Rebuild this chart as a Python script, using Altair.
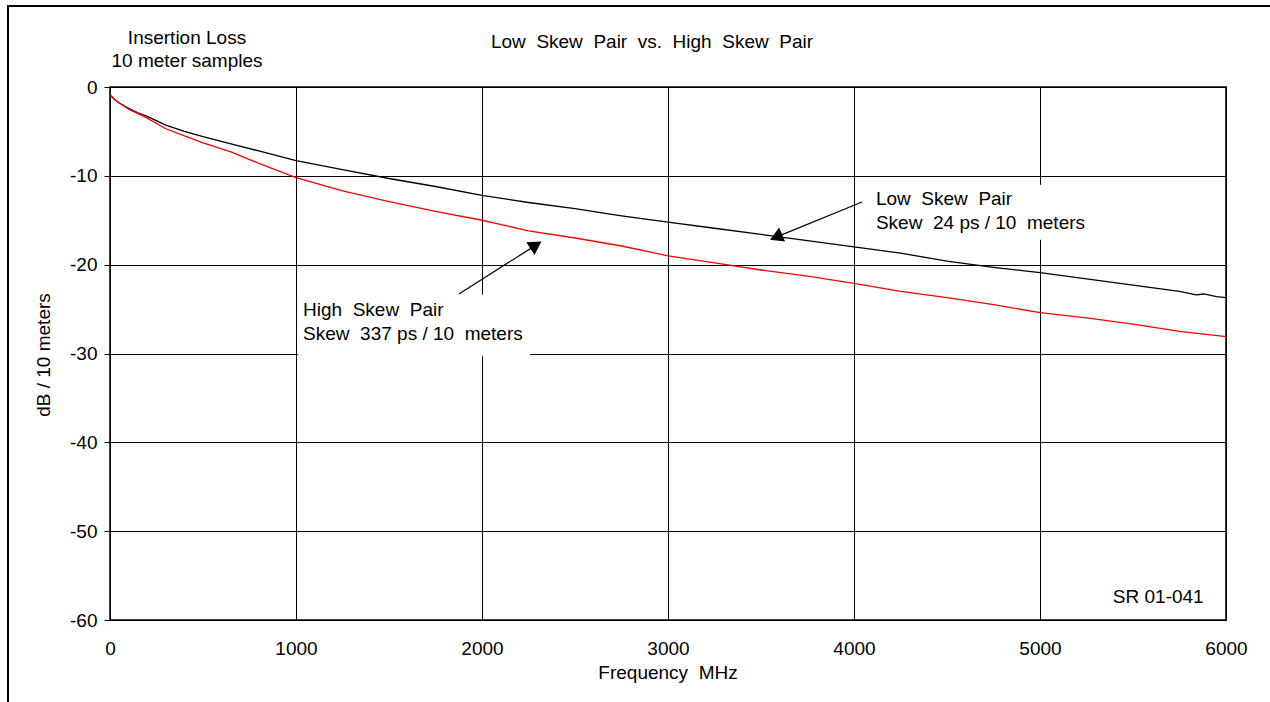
import altair as alt
import pandas as pd

# ---- data ----
low_freq = [0, 25, 50, 100, 150, 200, 300, 400, 500, 650, 800, 1000, 1250, 1500, 1750, 2000,
            2250, 2500, 2750, 3000, 3250, 3500, 3750, 4000, 4250, 4500, 4750, 5000, 5250,
            5500, 5750, 5840, 5880, 5950, 6000]
low_db = [-0.9, -1.4, -1.8, -2.4, -2.9, -3.3, -4.3, -5.0, -5.6, -6.4, -7.2, -8.3, -9.3, -10.3,
          -11.2, -12.2, -13.0, -13.7, -14.5, -15.2, -15.9, -16.6, -17.3, -18.0, -18.7, -19.6,
          -20.3, -20.9, -21.6, -22.3, -23.0, -23.4, -23.3, -23.6, -23.7]

high_freq = [0, 25, 50, 100, 150, 200, 300, 400, 500, 650, 800, 1000, 1250, 1500, 1750, 2000,
             2250, 2500, 2750, 3000, 3250, 3500, 3750, 4000, 4250, 4500, 4750,
             5000, 5250, 5500, 5750, 6000]
high_db = [-0.9, -1.4, -1.8, -2.5, -3.0, -3.5, -4.7, -5.5, -6.3, -7.3, -8.6, -10.2, -11.7,
           -12.9, -14.0, -15.0, -16.2, -17.0, -17.9, -19.0, -19.8, -20.6, -21.3, -22.1,
           -23.0, -23.7, -24.5, -25.4, -26.0, -26.7, -27.5, -28.1]

series_names = ["Low Skew Pair", "High Skew Pair"]
series_colors = ["#000000", "#ff0000"]

# annotation texts (anchor in data coords)
ann_text = ["Low\u00a0 Skew\u00a0 Pair", "Skew\u00a0 24 ps / 10\u00a0 meters",
            "High\u00a0 Skew\u00a0 Pair", "Skew\u00a0 337 ps / 10\u00a0 meters",
            "SR 01-041"]
ann_x = [4118, 4118, 1038, 1038, 5880]
ann_y = [-12.6, -15.3, -25.1, -27.8, -57.4]
ann_align = ["left", "left", "left", "left", "right"]

# arrows: start -> head
arr_x1 = [4043, 1876]
arr_y1 = [-12.95, -23.3]
arr_x2 = [3581, 2290]
arr_y2 = [-16.9, -17.8]
arr_angle = [247, 57]

# white boxes behind labels
box_x1 = [4075, 1011]
box_x2 = [5296, 2258]
box_y1 = [-11.0, -23.4]
box_y2 = [-17.2, -30.3]

FONT = "Liberation Sans"
FS = 19
W, H = 1116, 533

df = pd.concat([
    pd.DataFrame({"series": series_names[0], "freq": low_freq, "db": low_db, "order": range(len(low_freq))}),
    pd.DataFrame({"series": series_names[1], "freq": high_freq, "db": high_db, "order": range(len(high_freq))}),
])

xscale = alt.Scale(domain=[0, 6000], nice=False, zero=False)
yscale = alt.Scale(domain=[-60, 0], nice=False, zero=False)

xaxis = alt.Axis(values=list(range(0, 6001, 1000)), title=None, grid=True, gridColor="black",
                 gridOpacity=1, gridWidth=1, domainColor="black", tickSize=0, labelPadding=19,
                 labelFont=FONT, labelFontSize=FS, labelColor="black", labelFlush=False,
                 labelExpr="'' + datum.value")
yaxis = alt.Axis(values=list(range(-60, 1, 10)), title=None, grid=True, gridColor="black",
                 gridOpacity=1, gridWidth=1, domainColor="black", tickColor="black", tickSize=6,
                 labelPadding=7, labelFont=FONT, labelFontSize=FS, labelColor="black",
                 labelExpr="'' + datum.value")

lines = alt.Chart(df).mark_line(strokeWidth=1.3).encode(
    x=alt.X("freq:Q", scale=xscale, axis=xaxis),
    y=alt.Y("db:Q", scale=yscale, axis=yaxis),
    color=alt.Color("series:N", scale=alt.Scale(domain=series_names, range=series_colors), legend=None),
    order="order:Q",
)

box_df = pd.DataFrame({"x1": box_x1, "x2": box_x2, "y1": box_y1, "y2": box_y2})
boxes = alt.Chart(box_df).mark_rect(fill="white").encode(
    x=alt.X("x1:Q", scale=xscale), x2="x2:Q",
    y=alt.Y("y1:Q", scale=yscale), y2="y2:Q",
)

ann_df = pd.DataFrame({"t": ann_text, "x": ann_x, "y": ann_y, "a": ann_align})
texts_left = alt.Chart(ann_df[ann_df.a == "left"]).mark_text(
    align="left", baseline="middle", font=FONT, fontSize=FS, color="black").encode(
    x=alt.X("x:Q", scale=xscale), y=alt.Y("y:Q", scale=yscale), text="t:N")
texts_right = alt.Chart(ann_df[ann_df.a == "right"]).mark_text(
    align="right", baseline="middle", font=FONT, fontSize=FS, color="black").encode(
    x=alt.X("x:Q", scale=xscale), y=alt.Y("y:Q", scale=yscale), text="t:N")

arr_df = pd.DataFrame({"x1": arr_x1, "y1": arr_y1, "x2": arr_x2, "y2": arr_y2, "ang": arr_angle})
arrow_lines = alt.Chart(arr_df).mark_rule(color="black", strokeWidth=1.2).encode(
    x=alt.X("x1:Q", scale=xscale), y=alt.Y("y1:Q", scale=yscale), x2="x2:Q", y2="y2:Q")
arrow_heads = alt.Chart(arr_df).mark_point(shape="triangle-up", filled=True, color="black",
                                           size=230, opacity=1).encode(
    x=alt.X("x2:Q", scale=xscale), y=alt.Y("y2:Q", scale=yscale),
    angle=alt.Angle("ang:Q", scale=None))

# titles outside the plot (pixel positions relative to plot origin)
title_df = pd.DataFrame({
    "t": ["Insertion Loss", "10 meter samples",
          "Low\u00a0 Skew\u00a0 Pair\u00a0 vs.\u00a0 High\u00a0 Skew\u00a0 Pair",
          "Frequency\u00a0 MHz"],
    "px": [77, 77, 542, 558],
    "py": [-49, -26, -45, 586],
})
titles = alt.Chart(title_df).mark_text(align="center", baseline="middle", font=FONT,
                                       fontSize=FS, color="black").encode(
    x=alt.X("px:Q", scale=None), y=alt.Y("py:Q", scale=None), text="t:N")

ytitle = alt.Chart(pd.DataFrame({"t": ["dB / 10 meters"]})).mark_text(
    align="center", baseline="middle", font=FONT, fontSize=FS, color="black", angle=270).encode(
    x=alt.value(-66), y=alt.value(268), text="t:N")

frame = alt.Chart(pd.DataFrame({"k": [0]})).mark_rect(
    fillOpacity=0, stroke="black", strokeWidth=2).encode(
    x=alt.value(-102), x2=alt.value(1200), y=alt.value(-81), y2=alt.value(700))

chart = alt.layer(boxes, lines, arrow_lines, arrow_heads, texts_left, texts_right,
                  titles, ytitle, frame).properties(
    width=W, height=H,
    autosize=alt.AutoSizeParams(type="none"),
    padding={"left": 110, "top": 87, "right": 44, "bottom": 82},
    background="white",
).configure_view(stroke="black", strokeWidth=1.5)

chart.save("out.html", embed_options={"renderer": "svg", "actions": False})
